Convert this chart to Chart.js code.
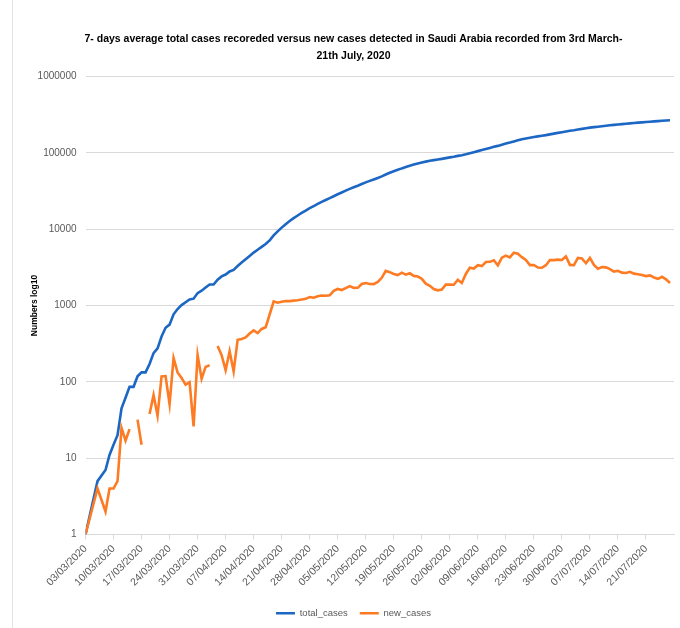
<!DOCTYPE html>
<html>
<head>
<meta charset="utf-8">
<script src="https://cdn.jsdelivr.net/npm/chart.js@4.4.1/dist/chart.umd.min.js"></script>
<style>
  html, body { margin: 0; padding: 0; background: #fff; }
  #wrap { position: relative; width: 680px; height: 628px; }
</style>
</head>
<body>
<div id="wrap"><canvas id="c"></canvas></div>
<script>
// ---------- DATA ----------
const chartTitle = ['7- days average total cases recoreded versus new cases detected in Saudi Arabia recorded from 3rd March-', '21th July, 2020'];
const yAxisTitle = 'Numbers log10';
const seriesNames = ['total_cases', 'new_cases'];

// dates present in the source table (04/03, 05/03 and 07/03 have no row)
const dates = [
  '03/03/2020','06/03/2020','08/03/2020','09/03/2020','10/03/2020','11/03/2020','12/03/2020','13/03/2020','14/03/2020','15/03/2020',
  '16/03/2020','17/03/2020','18/03/2020','19/03/2020','20/03/2020','21/03/2020','22/03/2020','23/03/2020','24/03/2020','25/03/2020',
  '26/03/2020','27/03/2020','28/03/2020','29/03/2020','30/03/2020','31/03/2020',
  '01/04/2020','02/04/2020','03/04/2020','04/04/2020','05/04/2020','06/04/2020','07/04/2020','08/04/2020','09/04/2020','10/04/2020',
  '11/04/2020','12/04/2020','13/04/2020','14/04/2020','15/04/2020','16/04/2020','17/04/2020','18/04/2020','19/04/2020','20/04/2020',
  '21/04/2020','22/04/2020','23/04/2020','24/04/2020','25/04/2020','26/04/2020','27/04/2020','28/04/2020','29/04/2020','30/04/2020',
  '01/05/2020','02/05/2020','03/05/2020','04/05/2020','05/05/2020','06/05/2020','07/05/2020','08/05/2020','09/05/2020','10/05/2020',
  '11/05/2020','12/05/2020','13/05/2020','14/05/2020','15/05/2020','16/05/2020','17/05/2020','18/05/2020','19/05/2020','20/05/2020',
  '21/05/2020','22/05/2020','23/05/2020','24/05/2020','25/05/2020','26/05/2020','27/05/2020','28/05/2020','29/05/2020','30/05/2020','31/05/2020',
  '01/06/2020','02/06/2020','03/06/2020','04/06/2020','05/06/2020','06/06/2020','07/06/2020','08/06/2020','09/06/2020','10/06/2020',
  '11/06/2020','12/06/2020','13/06/2020','14/06/2020','15/06/2020','16/06/2020','17/06/2020','18/06/2020','19/06/2020','20/06/2020',
  '21/06/2020','22/06/2020','23/06/2020','24/06/2020','25/06/2020','26/06/2020','27/06/2020','28/06/2020','29/06/2020','30/06/2020',
  '01/07/2020','02/07/2020','03/07/2020','04/07/2020','05/07/2020','06/07/2020','07/07/2020','08/07/2020','09/07/2020','10/07/2020',
  '11/07/2020','12/07/2020','13/07/2020','14/07/2020','15/07/2020','16/07/2020','17/07/2020','18/07/2020','19/07/2020','20/07/2020',
  '21/07/2020','22/07/2020','23/07/2020','24/07/2020','25/07/2020','26/07/2020','27/07/2020'
];

const totalCases = [
  1, 5, 7, 11, 15, 20, 45, 62, 86, 86,
  118, 133, 133, 171, 238, 274, 392, 511, 562, 767,
  900, 1012, 1104, 1203, 1229, 1453,
  1563, 1720, 1885, 1885, 2179, 2402, 2544, 2795, 2932, 3287,
  3651, 4033, 4462, 4934, 5369, 5862, 6380, 7142, 8274, 9362,
  10484, 11631, 12772, 13930, 15102, 16299, 17522, 18811, 20077, 21402,
  22753, 24097, 25459, 27011, 28656, 30251, 31938, 33731, 35432, 37136,
  39048, 41014, 42925, 44830, 46869, 49176, 52016, 54752, 57345, 59854,
  62545, 65077, 67719, 70161, 72560, 74795, 76726, 78541, 80185, 81766, 83384,
  85261, 87142, 89011, 91182, 93157, 95748, 98869, 101914, 105283, 108571,
  112288, 116021, 119942, 123308, 127541, 132048, 136315, 141234, 145991, 150292,
  154233, 157612, 161005, 164144, 167267, 170639, 174577, 178504, 182493, 186436,
  190823, 194225, 197608, 201801, 205929, 209509, 213716, 217108, 220144, 223327,
  226486, 229480, 232259, 235111, 237803, 240474, 243238, 245851, 248416, 250920,
  253349, 255825, 258156, 260394, 262772, 264973, 266941
];

// null = day with 0 new cases (cannot be drawn on a log axis -> gap)
const newCases = [
  1, 4, 2, 4, 4, 5, 25, 17, 24, null,
  32, 15, null, 38, 67, 36, 118, 119, 51, 205,
  133, 112, 92, 99, 26, 224,
  110, 157, 165, null, 294, 223, 142, 251, 137, 355,
  364, 382, 429, 472, 435, 493, 518, 762, 1132, 1088,
  1122, 1147, 1141, 1158, 1172, 1197, 1223, 1289, 1266, 1325,
  1351, 1344, 1362, 1552, 1645, 1595, 1687, 1793, 1701, 1704,
  1912, 1966, 1911, 1905, 2039, 2307, 2840, 2736, 2593, 2509,
  2691, 2532, 2642, 2442, 2399, 2235, 1931, 1815, 1644, 1581, 1618,
  1877, 1881, 1869, 2171, 1975, 2591, 3121, 3045, 3369, 3288,
  3717, 3733, 3921, 3366, 4233, 4507, 4267, 4919, 4757, 4301,
  3941, 3379, 3393, 3139, 3123, 3372, 3938, 3927, 3989, 3943,
  4387, 3402, 3383, 4193, 4128, 3580, 4207, 3392, 3036, 3183,
  3159, 2994, 2779, 2852, 2692, 2671, 2764, 2613, 2565, 2504,
  2429, 2476, 2331, 2238, 2378, 2201, 1968
];

const xTickLabels = [
  '03/03/2020','10/03/2020','17/03/2020','24/03/2020','31/03/2020','07/04/2020','14/04/2020',
  '21/04/2020','28/04/2020','05/05/2020','12/05/2020','19/05/2020','26/05/2020','02/06/2020',
  '09/06/2020','16/06/2020','23/06/2020','30/06/2020','07/07/2020','14/07/2020','21/07/2020'
];
const xAxisEndDate = '28/07/2020';
const yTicks = [1, 10, 100, 1000, 10000, 100000, 1000000];

// ---------- helpers ----------
function dayIndex(s) {
  const [d, m, y] = s.split('/').map(Number);
  const base = Date.UTC(2020, 2, 3);
  return Math.round((Date.UTC(y, m - 1, d) - base) / 86400000);
}
const totalPoints = dates.map((d, i) => ({ x: dayIndex(d), y: totalCases[i] }));
const newPoints = dates.map((d, i) => ({ x: dayIndex(d), y: newCases[i] }));

const BLUE = '#1D67C4';
const ORANGE = '#FD7B22';
const GRID = '#D9D9D9';
const TXT = '#595959';
const FONT = '"Liberation Sans", Arial, sans-serif';

const frame = {
  id: 'frame',
  beforeDraw(chart) {
    const ctx = chart.ctx;
    ctx.save();
    ctx.fillStyle = '#fff';
    ctx.fillRect(0, 0, chart.width, chart.height);
    ctx.strokeStyle = '#E3E3E3';
    ctx.lineWidth = 1;
    ctx.beginPath();
    ctx.moveTo(12.5, 0);
    ctx.lineTo(12.5, chart.height);
    ctx.stroke();
    ctx.restore();
  }
};

new Chart(document.getElementById('c'), {
  type: 'line',
  data: {
    datasets: [
      { label: seriesNames[0], data: totalPoints, borderColor: BLUE, backgroundColor: BLUE,
        borderWidth: 2.6, pointRadius: 0, tension: 0, spanGaps: false, order: 2 },
      { label: seriesNames[1], data: newPoints, borderColor: ORANGE, backgroundColor: ORANGE,
        borderWidth: 2.6, pointRadius: 0, tension: 0, spanGaps: false, order: 1 }
    ]
  },
  options: {
    responsive: true,
    maintainAspectRatio: false,
    animation: false,
    layout: { padding: { left: 33, right: 6, top: 0, bottom: 0 } },
    plugins: {
      tooltip: { enabled: false },
      title: {
        display: true,
        text: chartTitle,
        color: '#000',
        font: { family: FONT, size: 10.5, weight: 'bold', lineHeight: '17px' },
        padding: { top: 30.5, bottom: 12 }
      },
      legend: {
        position: 'bottom',
        labels: {
          color: TXT,
          font: { family: FONT, size: 9.5 },
          usePointStyle: true,
          pointStyle: 'line',
          pointStyleWidth: 19,
          boxHeight: 9,
          padding: 12,
          sort: (a, b) => a.datasetIndex - b.datasetIndex
        }
      }
    },
    scales: {
      x: {
        type: 'linear',
        min: 0,
        max: dayIndex(xAxisEndDate),
        afterBuildTicks: (scale) => { scale.ticks = xTickLabels.map(l => ({ value: dayIndex(l) })); },
        afterFit: (scale) => { scale.height = 62; },
        ticks: {
          autoSkip: false,
          maxRotation: 45,
          minRotation: 45,
          color: TXT,
          font: { family: FONT, size: 10.5 },
          padding: 3,
          callback: (v, i) => xTickLabels[i]
        },
        grid: { drawOnChartArea: false, drawTicks: true, tickLength: 5, color: GRID },
        border: { color: GRID }
      },
      y: {
        type: 'logarithmic',
        min: 1,
        max: 1000000,
        afterBuildTicks: (scale) => { scale.ticks = yTicks.map(v => ({ value: v })); },
        afterFit: (scale) => { scale.width = 52.5; },
        ticks: {
          color: TXT,
          font: { family: FONT, size: 10 },
          padding: 9,
          callback: (v) => String(v)
        },
        grid: { color: GRID, drawTicks: false },
        border: { display: false },
        title: {
          display: true,
          text: yAxisTitle,
          color: '#000',
          font: { family: FONT, size: 8.5, weight: 'bold' },
          padding: { top: -3, bottom: 0 }
        }
      }
    }
  },
  plugins: [frame]
});
</script>
</body>
</html>
